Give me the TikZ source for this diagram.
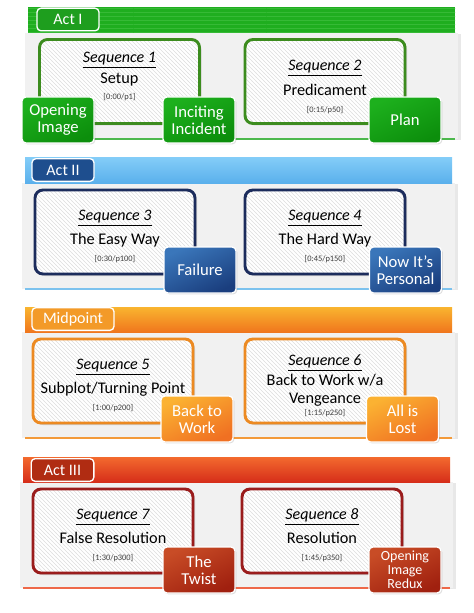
\documentclass[tikz,border=0pt]{standalone}
\usepackage{fontspec}
\setmainfont{Carlito}
\usetikzlibrary{patterns,shadows}

\definecolor{grnhdr}{HTML}{1FAE1F}
\definecolor{grnstripe}{HTML}{36BA36}
\definecolor{grntag}{HTML}{1E9E1E}
\definecolor{grnbox}{HTML}{3C8C1E}
\definecolor{grntop}{HTML}{1DB01D}
\definecolor{grnbot}{HTML}{0C8E0C}
\definecolor{grnline}{HTML}{4CB84C}
\definecolor{bluhdrtop}{HTML}{84CDF8}
\definecolor{bluhdrbot}{HTML}{5AB0EC}
\definecolor{blutag}{HTML}{1E4E8E}
\definecolor{blubox}{HTML}{1C2C5C}
\definecolor{blutop}{HTML}{3A76BA}
\definecolor{blubot}{HTML}{1A3E7E}
\definecolor{bluline}{HTML}{7CC2EE}
\definecolor{orahdrtop}{HTML}{F9B52F}
\definecolor{orahdrbot}{HTML}{F0761D}
\definecolor{oratag}{HTML}{F39A28}
\definecolor{orabox}{HTML}{EC8A22}
\definecolor{oratop}{HTML}{FBB232}
\definecolor{orabot}{HTML}{F07022}
\definecolor{oraline}{HTML}{F39A3A}
\definecolor{redhdrtop}{HTML}{F36A2E}
\definecolor{redhdrbot}{HTML}{D62E1A}
\definecolor{redtag}{HTML}{B02C12}
\definecolor{redbox}{HTML}{9A1C1C}
\definecolor{redtop}{HTML}{C84C26}
\definecolor{redbot}{HTML}{A0200F}
\definecolor{redline}{HTML}{EE6848}
\definecolor{panelgray}{HTML}{F1F1F1}

\tikzset{
  panelbody/.style={fill=panelgray,
    drop shadow={shadow xshift=2.5pt,shadow yshift=-0.5pt,opacity=0.18}},
  acttag/.style={draw=white,line width=1pt,rounded corners=3pt,fill=#1,
    text=white,minimum height=17pt,inner sep=0pt,
    font=\fontsize{12}{12}\selectfont},
  seqbox/.style={
    drop shadow={shadow xshift=1.5pt,shadow yshift=-1.5pt,opacity=0.3},
    fill=white,rounded corners=6pt,
    postaction={pattern=north west lines,pattern color=black!13},
    postaction={draw=#1,line width=2.2pt},
    minimum width=120pt,minimum height=63pt,inner sep=0pt},
  seqhead/.style={inner sep=1pt,font=\fontsize{12}{13}\selectfont\itshape},
  seqname/.style={inner sep=1pt,font=\fontsize{12.2}{13.5}\selectfont},
  seqtime/.style={inner sep=1pt,text=black!75,font=\fontsize{6.3}{7}\selectfont},
  beat/.style 2 args={draw=white,line width=1pt,rounded corners=3pt,
    top color=#1,bottom color=#2,shading angle=25,text=white,align=center,
    minimum width=54pt,minimum height=34.5pt,inner sep=1pt,
    font=\fontsize{12.5}{13}\selectfont,
    drop shadow={shadow xshift=1pt,shadow yshift=-1pt,opacity=0.25}},
}

\begin{document}
\begin{tikzpicture}[x=0.75pt,y=-0.75pt]
    \useasboundingbox (0,0) rectangle (474,613);
    % --- panel 1 : act I
    \begin{scope}
      \path[panelbody] (25,33) rectangle (458,139);
      \path[fill=grnhdr,postaction={pattern=horizontal lines,pattern color=grnstripe}]
        (28,7) rectangle (455,33);
      \draw[grnline,line width=1.2pt] (28,139) -- (455,139);
      \node[acttag=grntag,minimum width=46.5pt] (act1) at (68,19.5) {Act I};
      \node[seqbox=grnbox] (seq1) at (119.5,81.5) {};
      \node[seqbox=grnbox] (seq2) at (325,81.5) {};
      \node[seqhead] (seq1h) at (119.5,60) {\underline{Sequence 1}};
      \node[seqname] (seq1n) at (119.5,80) {Setup};
      \node[seqtime] (seq1t) at (119.5,97) {[0:00/p1]};
      \node[seqhead] (seq2h) at (325,68) {\underline{Sequence 2}};
      \node[seqname] (seq2n) at (325,90) {Predicament};
      \node[seqtime] (seq2t) at (325,110) {[0:15/p50]};
      \node[beat={grntop}{grnbot}] (opening) at (58,120) {Opening\\Image};
      \node[beat={grntop}{grnbot}] (inciting) at (199,120) {Inciting\\Incident};
      \node[beat={grntop}{grnbot}] (plan) at (405,120) {Plan};
    \end{scope}
    % --- panel 2 : act II
    \begin{scope}[shift={(0,150)}]
      \path[panelbody] (22,33) rectangle (455,139);
      \path[top color=bluhdrtop,bottom color=bluhdrbot] (25,7) rectangle (452,33);
      \draw[bluline,line width=1.2pt] (25,139) -- (452,139);
      \node[acttag=blutag,minimum width=46.5pt] (act2) at (63,20) {Act II};
      \node[seqbox=blubox] (seq3) at (115,82) {};
      \node[seqbox=blubox] (seq4) at (325,82) {};
      \node[seqhead] (seq3h) at (115,68) {\underline{Sequence 3}};
      \node[seqname] (seq3n) at (115,90) {The Easy Way};
      \node[seqtime] (seq3t) at (115,109) {[0:30/p100]};
      \node[seqhead] (seq4h) at (325,68) {\underline{Sequence 4}};
      \node[seqname] (seq4n) at (325,90) {The Hard Way};
      \node[seqtime] (seq4t) at (325,109) {[0:45/p150]};
      \node[beat={blutop}{blubot}] (failure) at (200,120) {Failure};
      \node[beat={blutop}{blubot}] (personal) at (405.5,120) {Now It's\\Personal};
    \end{scope}
    % --- panel 3 : midpoint
    \begin{scope}[shift={(0,300)}]
      \path[panelbody] (22,32) rectangle (455,138);
      \path[top color=orahdrtop,bottom color=orahdrbot] (25,7) rectangle (452,32);
      \draw[oraline,line width=1.2pt] (25,138) -- (452,138);
      \node[acttag=oratag,minimum width=61.5pt] (mid) at (73,19) {Midpoint};
      \node[seqbox=orabox] (seq5) at (113,81) {};
      \node[seqbox=orabox] (seq6) at (325,81) {};
      \node[seqhead] (seq5h) at (113,67) {\underline{Sequence 5}};
      \node[seqname] (seq5n) at (113,89) {Subplot/Turning Point};
      \node[seqtime] (seq5t) at (113,108) {[1:00/p200]};
      \node[seqhead] (seq6h) at (325,63) {\underline{Sequence 6}};
      \node[seqname,align=center] (seq6n) at (325,90) {Back to Work w/a\\Vengeance};
      \node[seqtime] (seq6t) at (325,113) {[1:15/p250]};
      \node[beat={oratop}{orabot}] (backwork) at (197,119) {Back to\\Work};
      \node[beat={oratop}{orabot}] (lost) at (402.5,119) {All is\\Lost};
    \end{scope}
    % --- panel 4 : act III
    \begin{scope}[shift={(0,450)}]
      \path[panelbody] (20,32) rectangle (453,138);
      \path[top color=redhdrtop,bottom color=redhdrbot] (23,7) rectangle (450,32);
      \draw[redline,line width=1.2pt] (23,138) -- (450,138);
      \node[acttag=redtag,minimum width=47pt] (act3) at (62.5,20) {Act III};
      \node[seqbox=redbox] (seq7) at (113,81) {};
      \node[seqbox=redbox] (seq8) at (322,81) {};
      \node[seqhead] (seq7h) at (113,67) {\underline{Sequence 7}};
      \node[seqname] (seq7n) at (113,88) {False Resolution};
      \node[seqtime] (seq7t) at (113,108) {[1:30/p300]};
      \node[seqhead] (seq8h) at (322,67) {\underline{Sequence 8}};
      \node[seqname] (seq8n) at (322,88) {Resolution};
      \node[seqtime] (seq8t) at (322,108) {[1:45/p350]};
      \node[beat={redtop}{redbot}] (twist) at (199,120) {The\\Twist};
      \node[beat={redtop}{redbot},font=\fontsize{10.5}{10.5}\selectfont] (redux) at (405,120)
        {Opening\\Image\\Redux};
    \end{scope}
  \end{tikzpicture}
\end{document}
